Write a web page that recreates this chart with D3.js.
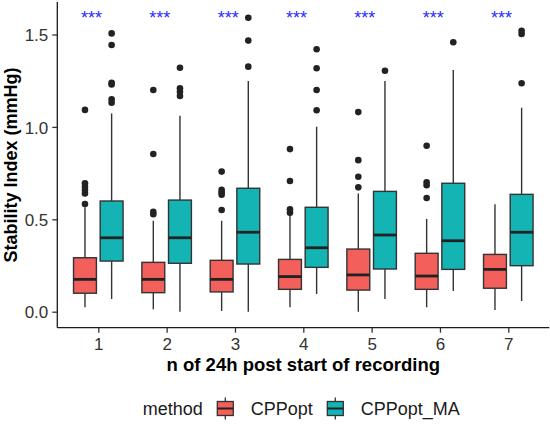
<!DOCTYPE html>
<html>
<head>
<meta charset="utf-8">
<script src="https://cdn.jsdelivr.net/npm/d3@7"></script>
<style>
  html, body { margin: 0; padding: 0; background: #ffffff; }
  svg { display: block; font-family: "Liberation Sans", Arial, Helvetica, sans-serif; }
</style>
</head>
<body>
<div id="chart"></div>
<script>
// ---- data ----
const days = ["1", "2", "3", "4", "5", "6", "7"];
const methods = ["CPPopt", "CPPopt_MA"];
const methodColors = ["#F35F5A", "#14B4B5"];
const yTicks = [0.0, 0.5, 1.0, 1.5];
const signifLabels = ["***", "***", "***", "***", "***", "***", "***"];

// CPPopt boxplot statistics per day
const cppLow    = [0.024, 0.013, 0.004, 0.024, 0.000, 0.024, 0.009];
const cppQ1     = [0.100, 0.103, 0.107, 0.121, 0.117, 0.121, 0.127];
const cppMedian = [0.175, 0.175, 0.175, 0.190, 0.199, 0.193, 0.229];
const cppQ3     = [0.292, 0.267, 0.278, 0.283, 0.339, 0.316, 0.310];
const cppHigh   = [0.565, 0.492, 0.492, 0.523, 0.640, 0.502, 0.581];
const cppOutliers = [
  [0.583, 0.640, 0.658, 0.676, 0.695, 1.092],
  [0.527, 0.541, 0.853, 1.200],
  [0.550, 0.633, 0.645, 0.659, 0.758],
  [0.536, 0.554, 0.707, 0.880],
  [0.673, 0.730, 0.820, 1.080],
  [0.615, 0.684, 0.700, 0.898],
  []
];

// CPPopt_MA boxplot statistics per day
const maLow    = [0.069, 0.000, 0.000, 0.096, 0.069, 0.112, 0.058];
const maQ1     = [0.274, 0.262, 0.258, 0.240, 0.231, 0.229, 0.249];
const maMedian = [0.400, 0.400, 0.430, 0.346, 0.415, 0.384, 0.430];
const maQ3     = [0.599, 0.604, 0.668, 0.565, 0.651, 0.695, 0.635];
const maHigh   = [1.073, 1.060, 1.248, 1.001, 1.248, 1.308, 1.104];
const maOutliers = [
  [1.131, 1.149, 1.230, 1.239, 1.443, 1.506],
  [1.167, 1.190, 1.209, 1.320],
  [1.326, 1.467, 1.591],
  [1.090, 1.200, 1.317, 1.420],
  [1.304],
  [1.458],
  [1.236, 1.503, 1.520]
];

// ---- build records ----
const stats = [
  {low: cppLow, q1: cppQ1, med: cppMedian, q3: cppQ3, high: cppHigh, out: cppOutliers},
  {low: maLow, q1: maQ1, med: maMedian, q3: maQ3, high: maHigh, out: maOutliers}
];
const boxes = [];
methods.forEach((m, mi) => {
  days.forEach((d, di) => {
    const s = stats[mi];
    boxes.push({day: d, method: m, low: s.low[di], q1: s.q1[di], med: s.med[di],
                q3: s.q3[di], high: s.high[di], out: s.out[di]});
  });
});

// ---- layout ----
const W = 550, H = 427;
const panel = {left: 57.3, right: 549.3, top: 2, bottom: 327.7};

const svg = d3.select("#chart").append("svg")
  .attr("width", W).attr("height", H);

const x = d3.scalePoint().domain(days).range([panel.left, panel.right]).padding(0.6);
const step = x.step();
const xm = d3.scalePoint().domain(methods).range([-0.195 * step, 0.195 * step]);
const boxW = 0.335 * step;
const color = d3.scaleOrdinal().domain(methods).range(methodColors);

const y = d3.scaleLinear().domain([0, 1.5]).range([311.7, 34.5]);

const lineCol = "#333333";

// boxes
const g = svg.append("g");
boxes.forEach(b => {
  const cx = x(b.day) + xm(b.method);
  const bg = g.append("g");
  bg.append("line").attr("x1", cx).attr("x2", cx).attr("y1", y(b.q3)).attr("y2", y(b.high))
    .attr("stroke", lineCol).attr("stroke-width", 1.4);
  bg.append("line").attr("x1", cx).attr("x2", cx).attr("y1", y(b.q1)).attr("y2", y(b.low))
    .attr("stroke", lineCol).attr("stroke-width", 1.4);
  bg.append("rect").attr("x", cx - boxW / 2).attr("width", boxW)
    .attr("y", y(b.q3)).attr("height", y(b.q1) - y(b.q3))
    .attr("fill", color(b.method)).attr("stroke", lineCol).attr("stroke-width", 1.4);
  bg.append("line").attr("x1", cx - boxW / 2).attr("x2", cx + boxW / 2)
    .attr("y1", y(b.med)).attr("y2", y(b.med))
    .attr("stroke", "#222222").attr("stroke-width", 2.8);
  bg.selectAll("circle").data(b.out).enter().append("circle")
    .attr("cx", cx).attr("cy", v => y(v)).attr("r", 3.3).attr("fill", "#222222");
});

// significance labels
svg.append("g").selectAll("text").data(days).enter().append("text")
  .attr("x", d => x(d) - 0.1 * step)
  .attr("y", 24)
  .attr("text-anchor", "middle")
  .attr("font-size", "18px")
  .attr("fill", "#2B2BFF")
  .text((d, i) => signifLabels[i]);

// axes
const xAxis = svg.append("g").attr("transform", `translate(0,${panel.bottom})`)
  .call(d3.axisBottom(x).tickSize(5).tickSizeOuter(0).tickPadding(5));
const yAxis = svg.append("g").attr("transform", `translate(${panel.left},0)`)
  .call(d3.axisLeft(y).tickValues(yTicks).tickFormat(d3.format(".1f")).tickSize(5).tickSizeOuter(0).tickPadding(4));
[xAxis, yAxis].forEach(a => {
  a.select(".domain").attr("stroke", "#1a1a1a").attr("stroke-width", 1.3);
  a.selectAll(".tick line").attr("stroke", "#333333").attr("stroke-width", 1.3);
  a.selectAll(".tick text").attr("fill", "#333333").attr("font-size", "17px")
    .attr("font-family", "'Liberation Sans', Arial, sans-serif");
});
// extend domain lines to panel corners
xAxis.select(".domain").attr("d", `M${panel.left},0H${panel.right}`);
yAxis.select(".domain").attr("d", `M0,${panel.bottom}V${panel.top}`);
xAxis.selectAll(".tick text").attr("dy", null).attr("y", 22.3);
yAxis.selectAll(".tick text").attr("dy", "0.36em");

// axis titles
svg.append("text")
  .attr("x", (panel.left + panel.right) / 2).attr("y", 371)
  .attr("text-anchor", "middle").attr("font-size", "18.5px").attr("font-weight", "bold")
  .attr("fill", "#000").text("n of 24h post start of recording");
svg.append("text")
  .attr("transform", `translate(17,165) rotate(-90)`)
  .attr("text-anchor", "middle").attr("font-size", "18px").attr("font-weight", "bold")
  .attr("fill", "#000").text("Stability Index (mmHg)");

// legend
const leg = svg.append("g");
const legBase = 415;
leg.append("text").attr("x", 142.7).attr("y", legBase).attr("font-size", "18px")
  .attr("fill", "#1a1a1a").text("method");
const keyX = [217.3, 327.3];
const labX = [250.7, 360.7];
methods.forEach((m, i) => {
  const kx = keyX[i], kw = 16, cx = kx + kw / 2, kc = legBase - 6.5;
  leg.append("line").attr("x1", cx).attr("x2", cx).attr("y1", kc - 11).attr("y2", kc + 11)
    .attr("stroke", lineCol).attr("stroke-width", 1.3);
  leg.append("rect").attr("x", kx).attr("y", kc - 7).attr("width", kw).attr("height", 14)
    .attr("fill", color(m)).attr("stroke", lineCol).attr("stroke-width", 1.3);
  leg.append("line").attr("x1", kx).attr("x2", kx + kw).attr("y1", kc).attr("y2", kc)
    .attr("stroke", "#222").attr("stroke-width", 2);
  leg.append("text").attr("x", labX[i]).attr("y", legBase).attr("font-size", "18px")
    .attr("fill", "#1a1a1a").text(m);
});
</script>
</body>
</html>
